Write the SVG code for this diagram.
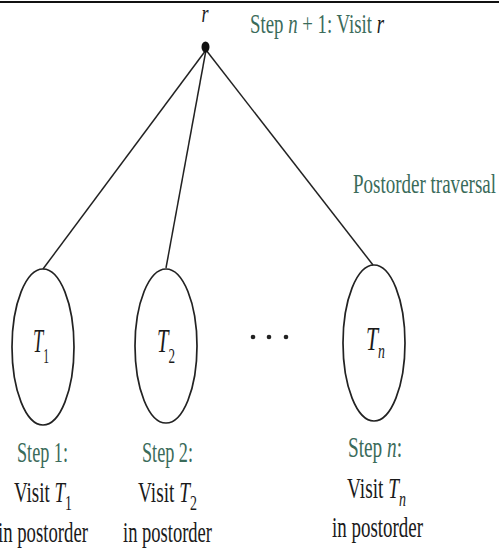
<svg xmlns="http://www.w3.org/2000/svg" width="499" height="560" viewBox="0 0 499 560">
<style>
text{font-family:"Liberation Serif","Times New Roman",serif;fill:#1a1a1a}
.g{fill:#3a6b5a}
.it{font-style:italic}
.tree{fill:none;stroke:#222;stroke-width:1.7}
.edge{stroke:#222;stroke-width:1.5;fill:none}
</style>
<rect width="499" height="560" fill="#fff"/>
<line x1="0" y1="2" x2="499" y2="2" stroke="#111" stroke-width="2"/>
<g id="connectors">
<line class="edge" x1="206" y1="50" x2="43" y2="269"/>
<line class="edge" x1="206" y1="50" x2="166" y2="268"/>
<line class="edge" x1="206" y1="50" x2="373" y2="265"/>
</g>
<g id="root">
<ellipse cx="205.5" cy="47" rx="4" ry="5.5" fill="#111"/>
<text class="it" x="205" y="22" font-size="26" text-anchor="middle" textLength="7" lengthAdjust="spacingAndGlyphs">r</text>
</g>
<g id="step-root">
<text class="g" x="250" y="33" font-size="28" textLength="134" lengthAdjust="spacingAndGlyphs">Step <tspan class="it">n</tspan> + 1: Visit <tspan class="it" fill="#1a1a1a">r</tspan></text>
</g>
<g id="title">
<text class="g" x="353" y="193" font-size="28" textLength="143" lengthAdjust="spacingAndGlyphs">Postorder traversal</text>
</g>
<g id="T1">
<ellipse class="tree" cx="43" cy="347" rx="31" ry="78"/>
<text x="33" y="352" font-size="33" textLength="16" lengthAdjust="spacingAndGlyphs"><tspan class="it">T</tspan><tspan font-size="21" dy="11">1</tspan></text>
</g>
<g id="T2">
<ellipse class="tree" cx="166" cy="346" rx="31" ry="77"/>
<text x="157" y="352" font-size="33" textLength="18" lengthAdjust="spacingAndGlyphs"><tspan class="it">T</tspan><tspan font-size="21" dy="11">2</tspan></text>
</g>
<g id="Tn">
<ellipse class="tree" cx="374" cy="343" rx="31" ry="78"/>
<text x="366" y="350" font-size="33" textLength="19" lengthAdjust="spacingAndGlyphs"><tspan class="it">T</tspan><tspan class="it" font-size="21" dy="8">n</tspan></text>
</g>
<g id="ellipsis" fill="#222">
<circle cx="253" cy="337" r="2.3"/>
<circle cx="269" cy="337" r="2.3"/>
<circle cx="286" cy="337" r="2.3"/>
</g>
<g id="label1">
<text class="g" x="17" y="462" font-size="29" textLength="51" lengthAdjust="spacingAndGlyphs">Step 1:</text>
<text x="14" y="502" font-size="29" textLength="58" lengthAdjust="spacingAndGlyphs">Visit <tspan class="it">T</tspan><tspan font-size="21" dy="8">1</tspan></text>
<text x="-2" y="542" font-size="29" textLength="90" lengthAdjust="spacingAndGlyphs">in postorder</text>
</g>
<g id="label2">
<text class="g" x="142" y="462" font-size="29" textLength="51" lengthAdjust="spacingAndGlyphs">Step 2:</text>
<text x="138" y="502" font-size="29" textLength="59" lengthAdjust="spacingAndGlyphs">Visit <tspan class="it">T</tspan><tspan font-size="21" dy="8">2</tspan></text>
<text x="123" y="542" font-size="29" textLength="89" lengthAdjust="spacingAndGlyphs">in postorder</text>
</g>
<g id="labeln">
<text class="g" x="348" y="457" font-size="29" textLength="54" lengthAdjust="spacingAndGlyphs">Step <tspan class="it">n</tspan>:</text>
<text x="347" y="498" font-size="29" textLength="59" lengthAdjust="spacingAndGlyphs">Visit <tspan class="it">T</tspan><tspan class="it" font-size="21" dy="8">n</tspan></text>
<text x="332" y="537" font-size="29" textLength="91" lengthAdjust="spacingAndGlyphs">in postorder</text>
</g>
</svg>
